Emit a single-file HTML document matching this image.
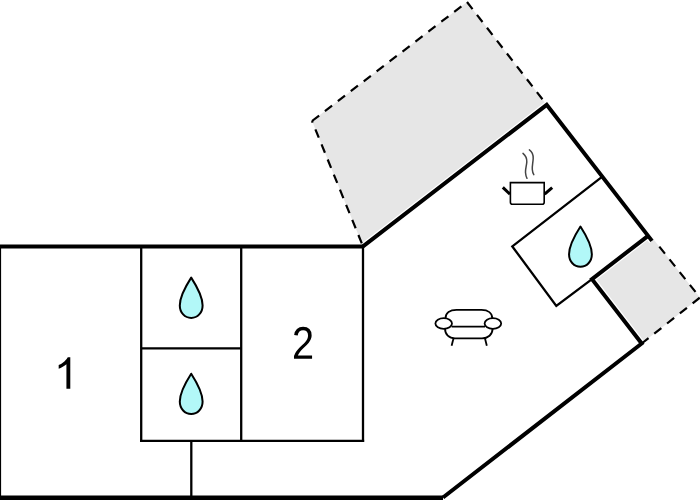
<!DOCTYPE html>
<html><head><meta charset="utf-8">
<style>
html,body{margin:0;padding:0;background:#fff;width:700px;height:500px;overflow:hidden}
svg{display:block}
text{font-family:"Liberation Sans",sans-serif}
</style></head>
<body>
<svg width="700" height="500" viewBox="0 0 700 500">
<!-- gray areas -->
<polygon points="312,121 467,2 546.7,104.8 363,246.3" fill="#e6e6e6"/>
<polygon points="650.8,236 700,297.5 641.7,343.5 592,279.1" fill="#e6e6e6"/>
<g stroke="#fff" stroke-width="6.5" fill="none" stroke-linejoin="miter">
<polyline points="363,246.3 546.7,104.8 652,240.9"/>
<polyline points="648.1,235.8 592,279.1 641.7,343.5 443,497.5"/>
</g>
<!-- dashed outlines -->
<polyline points="363,246.3 312,121" fill="none" stroke="#000" stroke-width="2.2" stroke-dasharray="9 7.3" stroke-dashoffset="13.1"/>
<polyline points="312,121 467,2" fill="none" stroke="#000" stroke-width="2.2" stroke-dasharray="9 7.3"/>
<polyline points="467,2 546.7,104.8" fill="none" stroke="#000" stroke-width="2.2" stroke-dasharray="9 7.3"/>
<polyline points="654.9,241.1 700,297.5" fill="none" stroke="#000" stroke-width="2.2" stroke-dasharray="9 7.3" stroke-dashoffset="9.2"/>
<polyline points="641.7,343.5 700,297.5" fill="none" stroke="#000" stroke-width="2.2" stroke-dasharray="9 7.3" stroke-dashoffset="0.3"/>

<!-- left building thin walls -->
<g stroke="#000" stroke-width="2.3" fill="none">
<line x1="141.2" y1="246" x2="141.2" y2="441.9"/>
<line x1="241.2" y1="246" x2="241.2" y2="441.9"/>
<line x1="363" y1="246" x2="363" y2="441.9"/>
<line x1="140.05" y1="440.8" x2="364.15" y2="440.8"/>
<line x1="141.2" y1="348.4" x2="241.2" y2="348.4"/>
<line x1="191.3" y1="440.8" x2="191.3" y2="497"/>
<polyline points="602.3,176.6 512.3,246.4 556.3,306 592,279.1"/>
</g>
<!-- thick walls -->
<g stroke="#000" stroke-width="4" fill="none" stroke-linejoin="miter">
<line x1="0" y1="246.4" x2="363" y2="246.4"/>
<line x1="0" y1="498" x2="443" y2="498" stroke-width="5"/>
<line x1="0" y1="246" x2="0" y2="500" stroke-width="2.2"/>
<polyline points="363,246.3 546.7,104.8 652,240.9"/>
<polyline points="648.1,235.8 592,279.1 641.7,343.5 443,497.5"/>
</g>

<!-- labels -->
<path transform="translate(53.9 388.8) scale(0.02148 -0.02148)" d="M763 0H583V1147Q518 1085 412.5 1023Q307 961 223 930V1104Q374 1175 487 1276Q600 1377 647 1472H763Z"/>
<path transform="translate(292.0 358.8) scale(0.01937 -0.02234)" d="M103 0V127Q154 244 227.5 333.5Q301 423 382.0 495.5Q463 568 542.5 630.0Q622 692 686.0 754.0Q750 816 789.5 884.0Q829 952 829 1038Q829 1154 761.0 1218.0Q693 1282 572 1282Q457 1282 382.5 1219.5Q308 1157 295 1044L111 1061Q131 1230 254.5 1330.0Q378 1430 572 1430Q785 1430 899.5 1329.5Q1014 1229 1014 1044Q1014 962 976.5 881.0Q939 800 865.0 719.0Q791 638 582 468Q467 374 399.0 298.5Q331 223 301 153H1036V0Z"/>

<!-- drops -->
<g fill="#b2f8f8" stroke="#000" stroke-width="2" stroke-linejoin="round">
<path transform="translate(179.8 277.6)" d="M11.4 0 C17.2 9 22.8 18.5 22.8 27.8 C22.8 35.1 17.7 40.3 11.4 40.3 C5.1 40.3 0 35.1 0 27.8 C0 18.5 5.6 9 11.4 0 Z"/>
<path transform="translate(179.8 373.7)" d="M11.4 0 C17.2 9 22.8 18.5 22.8 27.8 C22.8 35.1 17.7 40.3 11.4 40.3 C5.1 40.3 0 35.1 0 27.8 C0 18.5 5.6 9 11.4 0 Z"/>
<path transform="translate(569.05 226.5)" d="M11.4 0 C17.2 9 22.8 18.5 22.8 27.8 C22.8 35.1 17.7 40.3 11.4 40.3 C5.1 40.3 0 35.1 0 27.8 C0 18.5 5.6 9 11.4 0 Z"/>
</g>

<!-- pot -->
<g stroke="#000" fill="none">
<path d="M510.4 182.6 H544.2 V202.2 Q544.2 204.2 542.2 204.2 H512.4 Q510.4 204.2 510.4 202.2 Z" stroke-width="1.6"/>
<line x1="502.8" y1="187.4" x2="510" y2="194.2" stroke-width="3"/>
<line x1="544.6" y1="194.2" x2="552.2" y2="187.6" stroke-width="3"/>
</g>
<g stroke="#444" fill="none" stroke-width="1.5" stroke-linecap="round">
<path d="M523 153.4 C525.5 155.5 527 158 526.8 162 C526.5 166 525.3 169 525.5 172.5 C525.7 175 526.2 177 527 178.3"/>
<path d="M529.4 149.8 C532 151.5 533.3 154.5 533.2 158.5 C533 162.5 532 166 532.3 169.5 C532.5 172 533 173.5 533.8 174.7"/>
</g>

<!-- sofa -->
<g stroke="#000" fill="none" stroke-width="1.8">
<path d="M445.5 318.5 C445.5 313 450 309.8 456.5 309.8 H481.5 C488 309.8 492.3 313 492.3 318.5"/>
<ellipse cx="443.7" cy="323.5" rx="8.3" ry="5.3"/>
<ellipse cx="492.9" cy="323.5" rx="8.3" ry="5.3"/>
<line x1="451.6" y1="326.6" x2="485" y2="326.6"/>
<path d="M445 328.6 C445 334.5 449 338.4 455 338.4 H482 C488 338.4 492.6 334.5 492.6 328.6"/>
<line x1="453.5" y1="338.5" x2="451.6" y2="345.8"/>
<line x1="485" y1="338.5" x2="486.8" y2="345.8"/>
</g>
</svg>
</body></html>
